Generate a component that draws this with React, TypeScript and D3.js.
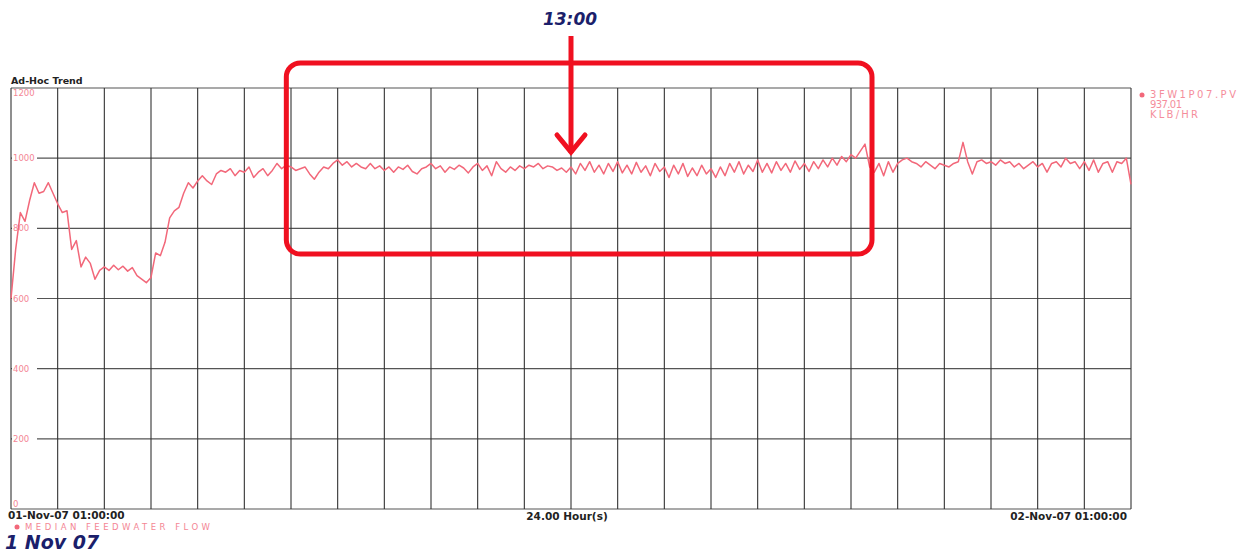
import React from "react";
import * as d3 from "d3";

// Feedwater flow (KLB/HR), sampled every 0.1 hour from 01-Nov-07 01:00 to 02-Nov-07 01:00
const flow: number[] = [
  600, 740, 845, 820, 880, 930, 900, 905, 930, 900,
  870, 845, 850, 740, 765, 690, 718, 700, 655, 680,
  690, 680, 695, 682, 692, 678, 688, 665, 655, 645,
  660, 730, 722, 760, 830, 850, 860, 900, 930, 915,
  935, 950, 935, 925, 955, 965, 960, 970, 950, 965,
  960, 975, 945, 960, 970, 950, 965, 985, 970, 980,
  975, 965, 970, 975, 955, 940, 960, 975, 970, 985,
  995, 980, 990, 975, 985, 975, 970, 985, 970, 978,
  965, 975, 960, 975, 968, 980, 962, 955, 970, 975,
  985, 970, 978, 960, 975, 968, 980, 972, 958, 975,
  985, 965, 978, 950, 990, 970, 960, 975, 965, 978,
  970, 980, 975, 985, 970, 978, 975, 965, 972, 960,
  975, 955, 985, 965, 990, 960, 980, 955, 985, 962,
  990, 958, 980, 955, 988, 960, 978, 950, 985, 962,
  975, 945, 980, 955, 985, 948, 972, 950, 980, 955,
  970, 945, 975, 950, 985, 960, 990, 955, 980, 962,
  995, 960, 985, 958, 990, 965, 985, 960, 992, 968,
  985, 962, 990, 970, 995, 975, 1000, 980, 1005, 990,
  1010, 1000, 1020, 1040, 975, 960, 985, 950, 990, 960,
  985, 995, 1000, 990, 985, 975, 990, 980, 970, 985,
  980, 975, 985, 990, 1045, 990, 955, 990, 995, 985,
  990, 980, 995, 985, 990, 975, 985, 970, 980, 990,
  975, 985, 960, 985, 990, 975, 1000, 985, 990, 970,
  990, 965, 995, 960, 985, 990, 960, 990, 985, 1000,
  925,
];
const yTicks = [0, 200, 400, 600, 800, 1000, 1200];
const xTicks = d3.range(0, 25);
const seriesName = "MEDIAN FEEDWATER FLOW";
const tagName = "3FW1P07.PV";
const currentValue = "937.01";
const units = "KLB/HR";
const startLabel = "01-Nov-07 01:00:00";
const endLabel = "02-Nov-07 01:00:00";
const spanLabel = "24.00 Hour(s)";
const startHour = 1;
const calloutHour = 13;
const calloutLabel = "13:00";
const dateLabel = "1 Nov 07";

const W = 1241;
const H = 554;
const x = d3.scaleLinear().domain([0, 24]).range([11, 1131]);
const y = d3.scaleLinear().domain([0, 1200]).range([509, 88]);

const PINK = "#f2687a";
const NAVY = "#1b1f6b";
const RED = "#f01020";

export default function App() {
  const line = d3
    .line<number>()
    .x((_, i) => x(i / 10))
    .y((d) => y(d));

  const boxX0 = x(5.9);
  const boxX1 = x(18.45);
  const arrowX = x(calloutHour - startHour);

  const labelY = (t: number) => (t === 1200 ? y(t) + 8 : t === 0 ? y(t) - 2 : y(t) + 3);

  return (
    <svg
      width={W}
      height={H}
      style={{ position: "absolute", left: 0, top: 0, background: "#fff" }}
      fontFamily="DejaVu Sans, sans-serif"
    >
      <rect width={W} height={H} fill="#fff" />
      {/* title */}
      <text x={11} y={84} fontSize={9.5} fontWeight="bold" fill="#222">
        Ad-Hoc Trend
      </text>
      {/* horizontal grid */}
      {yTicks.map((t) => (
        <line
          key={"h" + t}
          x1={x(0)}
          x2={x(24)}
          y1={y(t)}
          y2={y(t)}
          stroke="#555"
          strokeWidth={1.1}
        />
      ))}
      {/* vertical grid */}
      {xTicks.map((t) => (
        <line
          key={"v" + t}
          x1={x(t)}
          x2={x(t)}
          y1={y(1200)}
          y2={y(0)}
          stroke="#333"
          strokeWidth={1.1}
        />
      ))}
      {/* y tick labels */}
      {yTicks.map((t) => (
        <g key={"yl" + t}>
          {t !== 0 && t !== 1200 && (
            <rect x={12} y={y(t) - 4} width={25} height={8} fill="#fff" />
          )}
          <text x={13} y={labelY(t)} fontSize={8.5} fill={PINK} opacity={0.8}>
            {t}
          </text>
        </g>
      ))}
      {/* series */}
      <path d={line(flow) || ""} fill="none" stroke={PINK} strokeWidth={1.5} strokeLinejoin="round" />
      {/* legend right */}
      <circle cx={1142} cy={95} r={2.5} fill={PINK} />
      <text x={1150} y={98} fontSize={10} fill={PINK} opacity={0.75} textLength={86}>
        {tagName}
      </text>
      <text x={1150} y={108} fontSize={10} fill={PINK} opacity={0.75} textLength={32}>
        {currentValue}
      </text>
      <text x={1150} y={118} fontSize={10} fill={PINK} opacity={0.75} textLength={48}>
        {units}
      </text>
      {/* bottom axis labels */}
      <text x={8} y={519} fontSize={10.5} fontWeight="bold" fill="#222">
        {startLabel}
      </text>
      <text x={567} y={520} fontSize={10.5} fontWeight="bold" fill="#222" textAnchor="middle">
        {spanLabel}
      </text>
      <text x={1127} y={520} fontSize={10.5} fontWeight="bold" fill="#222" textAnchor="end">
        {endLabel}
      </text>
      <circle cx={17} cy={527} r={2.5} fill={PINK} />
      <text x={25} y={529.5} fontSize={8.5} fill={PINK} opacity={0.8} textLength={185}>
        {seriesName}
      </text>
      <text x={5} y={549} fontSize={19} fontWeight="bold" fontStyle="italic" fill={NAVY}>
        {dateLabel}
      </text>
      {/* annotation */}
      <rect
        x={boxX0}
        y={63}
        width={boxX1 - boxX0}
        height={191}
        rx={14}
        fill="none"
        stroke={RED}
        strokeWidth={5}
      />
      <line x1={arrowX} x2={arrowX} y1={36} y2={153} stroke={RED} strokeWidth={5} />
      <polyline
        points={`${arrowX - 14},${135} ${arrowX},${152} ${arrowX + 14},${135}`}
        fill="none"
        stroke={RED}
        strokeWidth={5}
        strokeLinecap="round"
      />
      <text
        x={arrowX - 1}
        y={25}
        fontSize={17}
        fontWeight="bold"
        fontStyle="italic"
        fill={NAVY}
        textAnchor="middle"
      >
        {calloutLabel}
      </text>
    </svg>
  );
}
